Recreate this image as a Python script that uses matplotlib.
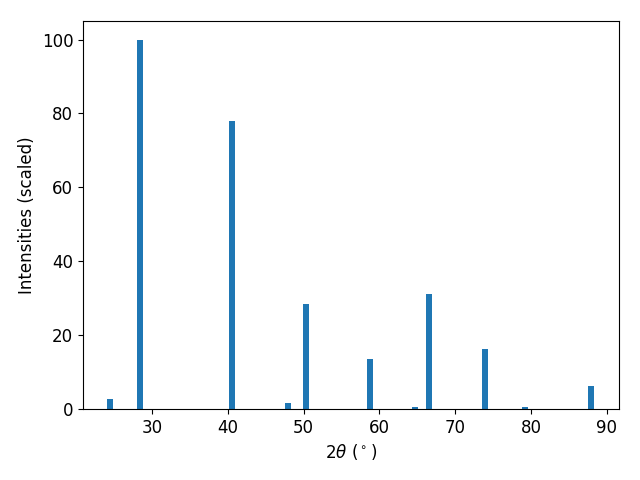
import matplotlib
matplotlib.use("Agg")
import matplotlib.pyplot as plt

two_theta = [24.45, 28.42, 40.55, 48.0, 50.31, 58.75, 64.69, 66.53, 73.91, 79.19, 87.9]
intensity = [2.7, 100.0, 78.0, 1.6, 28.5, 13.5, 0.6, 31.2, 16.3, 0.6, 6.2]

plt.rcParams['font.size'] = 12
fig, ax = plt.subplots(figsize=(6.4, 4.8), dpi=100)
ax.bar(two_theta, intensity, width=0.8, color='#1f77b4')
ax.set_xlim(20.9, 91.6)
ax.set_xlabel(r"$2\theta$ ($^\circ$)")
ax.set_ylabel("Intensities (scaled)")
fig.subplots_adjust(left=0.1297, right=0.967, top=0.956, bottom=0.148)
fig.savefig("out.png", dpi=100)
